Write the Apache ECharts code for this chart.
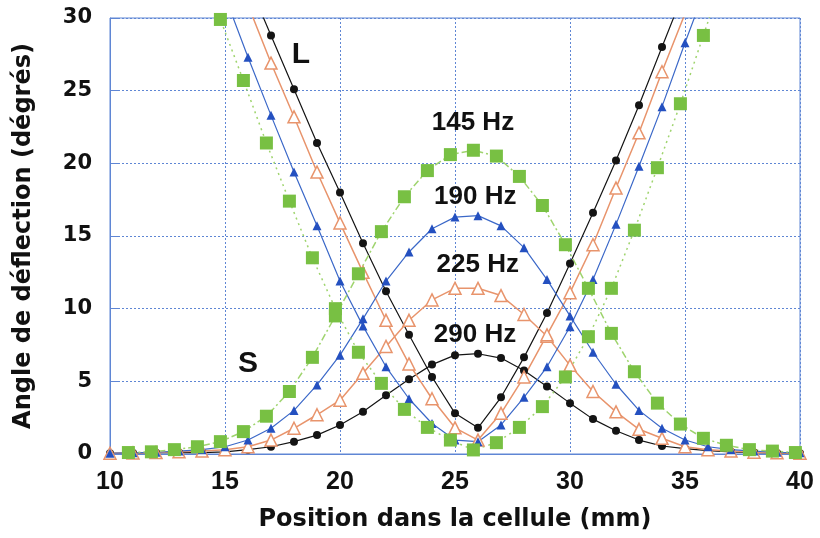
<!DOCTYPE html>
<html>
<head>
<meta charset="utf-8">
<script src="https://cdn.jsdelivr.net/npm/echarts@6/dist/echarts.min.js"></script>
<style>html,body{margin:0;padding:0;background:#fff;}#c{width:820px;height:538px;}</style>
</head>
<body>
<div id="c"></div>
<script>
// Positions (mm) for 290/225/190 Hz series
var xPos = [10,11,12,13,14,15,16,17,18,19,20,21,22,23,24,25,26,27,28,29,30,31,32,33,34,35,36,37,38,39,40];
// Positions (mm) for 145 Hz series
var xPos145 = [10.8,11.8,12.8,13.8,14.8,15.8,16.8,17.8,18.8,19.8,20.8,21.8,22.8,23.8,24.8,25.8,26.8,27.8,28.8,29.8,30.8,31.8,32.8,33.8,34.8,35.8,36.8,37.8,38.8,39.8];

// 290 Hz (black circles)
var s290 = [0.05,0.07,0.09,0.1,0.1,0.15,0.3,0.5,0.85,1.3,2.0,2.9,4.05,5.15,6.15,6.8,6.9,6.6,5.75,4.65,3.5,2.4,1.6,0.96,0.55,0.37,0.23,0.15,0.1,0.07,0.05];
var l290 = [null,null,null,null,null,null,32.5,28.8,25.1,21.4,18.0,14.5,11.2,8.2,5.3,2.8,1.8,3.9,6.65,9.7,13.1,16.6,20.2,24.0,28.0,32.0,null,null,null,null,null];
// 225 Hz (hollow orange triangles)
var s225 = [0.05,0.07,0.1,0.15,0.2,0.3,0.5,0.96,1.77,2.7,3.7,5.55,7.4,9.2,10.6,11.4,11.4,10.9,9.6,8.1,6.1,4.3,2.9,1.7,1.08,0.5,0.3,0.2,0.12,0.08,0.05];
var l225 = [null,null,null,null,null,null,30.9,26.9,23.2,19.4,15.9,12.5,9.2,6.2,3.8,1.8,0.96,2.8,5.3,8.2,11.1,14.4,18.3,22.1,26.3,30.3,null,null,null,null,null];
// 190 Hz (blue triangles)
var s190 = [0.05,0.08,0.12,0.2,0.3,0.5,0.96,1.77,3.0,4.75,6.8,9.3,11.9,13.9,15.5,16.3,16.4,15.7,14.2,12.0,9.5,7.0,4.8,3.0,1.77,0.96,0.5,0.3,0.2,0.12,0.08];
var l190 = [null,null,null,null,null,31.5,27.3,23.3,19.4,15.7,11.9,8.8,6.0,3.8,2.1,0.96,0.85,2.0,3.9,6.0,8.76,12.0,15.8,19.8,23.9,28.3,32.5,null,null,null,null];
// 145 Hz (green squares)
var s145 = [0.1,0.15,0.3,0.5,0.85,1.54,2.6,4.3,6.65,9.5,12.4,15.3,17.7,19.5,20.6,20.9,20.5,19.1,17.1,14.4,11.4,8.3,5.66,3.5,2.06,1.08,0.6,0.3,0.2,0.1];
var l145 = [null,null,null,34,29.9,25.7,21.4,17.4,13.5,10.0,7.0,4.86,3.07,1.83,0.96,0.28,0.78,1.83,3.26,5.3,8.07,11.4,15.4,19.7,24.1,28.8,33.5,null,null,null];

// Axis ticks
var xTicks = [10,15,20,25,30,35,40];
var yTicks = [0,5,10,15,20,25,30];

// Annotations (data coordinates)
var annoText = ['L','S','145 Hz','190 Hz','225 Hz','290 Hz'];
var annoX = [18.3,16.0,25.78,25.88,25.99,25.87];
var annoY = [27.5,6.2,22.8,17.7,13.0,8.2];
var annoSize = [30,30,26,26,26,26];

function pairs(xs, ys){
  var out = [];
  for (var i=0;i<xs.length;i++){ if (ys[i]!==null) out.push([xs[i], ys[i]]); }
  return out;
}

var C_BLACK = '#141414', C_ORANGE = '#e8946c', C_BLUE = '#2450c0', C_GREEN = '#78c043', C_GREENL = '#9fd46e';
var GRID_C = '#5f86d4';

function mk(name, xs, ys, color, symbol, size, lineColor, lineType, lineWidth, hollow){
  return {
    name: name, type: 'line', data: pairs(xs, ys), clip: true,
    symbol: symbol, symbolSize: size, showSymbol: true,
    lineStyle: {color: lineColor, width: lineWidth, type: lineType},
    itemStyle: hollow ? {color: '#ffffff', borderColor: color, borderWidth: 1.5}
                      : {color: color, borderWidth: 0},
    emphasis: {disabled: true}, animation: false, z: 2
  };
}

var chart = echarts.init(document.getElementById('c'), null, {renderer: 'canvas'});
var option = {
  animation: false,
  grid: {left: 110, right: 20, top: 18, bottom: 84, show: true, borderColor: GRID_C, borderWidth: 1, backgroundColor: '#fff'},
  xAxis: {
    type: 'value', min: 10, max: 40, interval: 5,
    name: 'Position dans la cellule (mm)', nameLocation: 'middle', nameGap: 54,
    nameTextStyle: {fontFamily: 'DejaVu Sans', fontWeight: 'bold', fontSize: 24, color: '#111'},
    axisLine: {show: true, lineStyle: {color: GRID_C, width: 1}},
    axisTick: {show: false},
    axisLabel: {fontFamily: 'Liberation Sans', fontWeight: 'bold', fontSize: 25, color: '#111', margin: 16,
      formatter: function(v){ return xTicks.indexOf(v) >= 0 ? String(v) : ''; }},
    splitLine: {show: true, lineStyle: {color: GRID_C, type: [2,2], width: 1}}
  },
  yAxis: {
    type: 'value', min: 0, max: 30, interval: 5,
    name: 'Angle de déflection (dégrés)', nameLocation: 'middle', nameGap: 74, nameRotate: 90,
    nameTextStyle: {fontFamily: 'DejaVu Sans', fontWeight: 'bold', fontSize: 24, color: '#111'},
    axisLine: {show: true, lineStyle: {color: GRID_C, width: 1}},
    axisTick: {show: true, inside: true, length: 10, lineStyle: {color: GRID_C}},
    axisLabel: {fontFamily: 'DejaVu Sans', fontWeight: 'bold', fontSize: 21, color: '#111', margin: 18,
      formatter: function(v){ return yTicks.indexOf(v) >= 0 ? String(v) : ''; }},
    splitLine: {show: true, lineStyle: {color: GRID_C, type: [2,2], width: 1}}
  },
  series: [
    mk('290 Hz S', xPos, s290, C_BLACK, 'circle', 8, C_BLACK, 'solid', 1.2, false),
    mk('290 Hz L', xPos, l290, C_BLACK, 'circle', 8, C_BLACK, 'solid', 1.2, false),
    mk('225 Hz S', xPos, s225, C_ORANGE, 'triangle', 12, C_ORANGE, 'solid', 1.5, true),
    mk('225 Hz L', xPos, l225, C_ORANGE, 'triangle', 12, C_ORANGE, 'solid', 1.5, true),
    mk('190 Hz S', xPos, s190, C_BLUE, 'triangle', 9, '#3b68c8', 'solid', 1.2, false),
    mk('190 Hz L', xPos, l190, C_BLUE, 'triangle', 9, '#3b68c8', 'solid', 1.2, false),
    mk('145 Hz S', xPos145, s145, C_GREEN, 'rect', 13, C_GREENL, [7,3,2,3], 1.5, false),
    mk('145 Hz L', xPos145, l145, C_GREEN, 'rect', 13, C_GREENL, [2,4], 1.5, false)
  ]
};
chart.setOption(option);

var g = [];
for (var i=0;i<annoText.length;i++){
  var p = chart.convertToPixel({gridIndex: 0}, [annoX[i], annoY[i]]);
  g.push({type: 'text', x: p[0], y: p[1], z: 100, style: {
    text: annoText[i], fill: '#111', font: 'bold ' + annoSize[i] + 'px "Liberation Sans", Arial, sans-serif',
    textAlign: 'center', textVerticalAlign: 'middle'}});
}
chart.setOption({graphic: g});
</script>
</body>
</html>
